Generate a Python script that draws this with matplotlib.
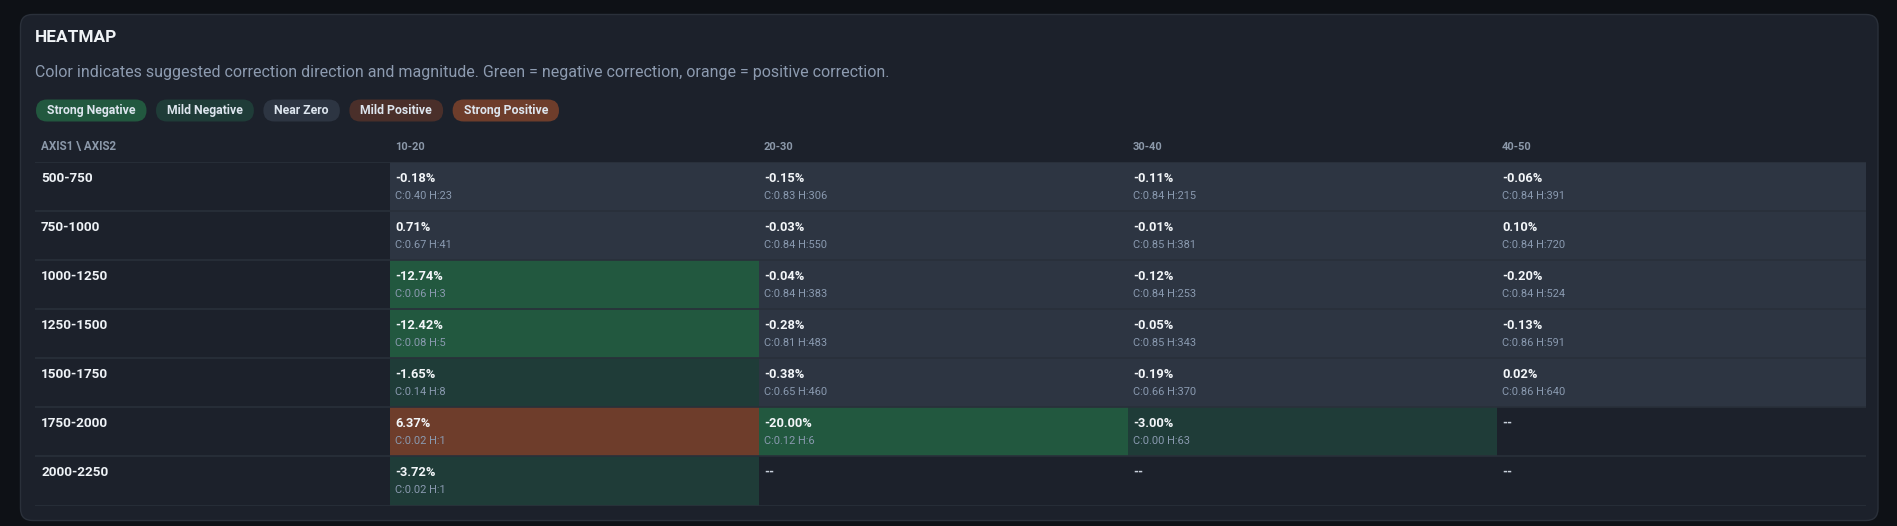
import matplotlib
matplotlib.use('Agg')
import matplotlib.pyplot as plt
import numpy as np
from matplotlib.patches import FancyBboxPatch
from matplotlib.colors import ListedColormap

plt.rcParams['font.family'] = ['Roboto', 'DejaVu Sans']

# data
row_labels = ['500-750', '750-1000', '1000-1250', '1250-1500', '1500-1750', '1750-2000', '2000-2250']
col_labels = ['10-20', '20-30', '30-40', '40-50']
correction = [
    [-0.18, -0.15, -0.11, -0.06],
    [0.71, -0.03, -0.01, 0.10],
    [-12.74, -0.04, -0.12, -0.20],
    [-12.42, -0.28, -0.05, -0.13],
    [-1.65, -0.38, -0.19, 0.02],
    [6.37, -20.00, -3.00, None],
    [-3.72, None, None, None],
]
confidence = [
    [0.40, 0.83, 0.84, 0.84],
    [0.67, 0.84, 0.85, 0.84],
    [0.06, 0.84, 0.84, 0.84],
    [0.08, 0.81, 0.85, 0.86],
    [0.14, 0.65, 0.66, 0.86],
    [0.02, 0.12, 0.00, None],
    [0.02, None, None, None],
]
hits = [
    [23, 306, 215, 391],
    [41, 550, 381, 720],
    [3, 383, 253, 524],
    [5, 483, 343, 591],
    [8, 460, 370, 640],
    [1, 6, 63, None],
    [1, None, None, None],
]
legend_labels = ['Strong Negative', 'Mild Negative', 'Near Zero', 'Mild Positive', 'Strong Positive']
legend_colors = ['#22583f', '#1f3c38', '#2d3542', '#4a2f2a', '#6e3d2b']

subtitle = ('Color indicates suggested correction direction and magnitude. '
            'Green = negative correction, orange = positive correction.')


def category(v):
    if v is None:
        return np.nan
    if v <= -5:
        return 0
    if v <= -1:
        return 1
    if v < 1:
        return 2
    if v < 5:
        return 3
    return 4


W, H = 1897, 526
fig = plt.figure(figsize=(W / 100, H / 100), dpi=100)
fig.patch.set_facecolor('#0e1116')

# background axes in pixel units for the card, title and pills
bg = fig.add_axes([0, 0, 1, 1])
bg.set_xlim(0, W)
bg.set_ylim(H, 0)
bg.axis('off')

bg.add_patch(FancyBboxPatch((20.5, 14.5), 1857.5, 506,
                            boxstyle='round,pad=0,rounding_size=12',
                            fc='#1c212b', ec='#2a303a', lw=1))
bg.text(35, 37, 'HEATMAP', color='#f0f3f6', fontsize=12.4, fontweight='bold', va='center')
bg.text(35, 72.5, subtitle, color='#8d9bb0', fontsize=11.5, va='center')

# legend pills, laid out from measured text widths
fig.canvas.draw()
renderer = fig.canvas.get_renderer()
x = 36
pill_h, pill_pad, pill_gap = 22, 11, 9.5
for label, color in zip(legend_labels, legend_colors):
    t = bg.text(x + pill_pad, 110.5, label, color='#dde5ee', fontsize=8.8,
                fontweight='bold', va='center', zorder=3)
    w = t.get_window_extent(renderer).width
    bg.add_patch(FancyBboxPatch((x, 110.5 - pill_h / 2), w + 2 * pill_pad, pill_h,
                                boxstyle='round,pad=0,rounding_size=11',
                                fc=color, ec='none', zorder=2))
    x += w + 2 * pill_pad + pill_gap

# table axes: label column + 4 data columns
tbl_left, tbl_right, tbl_top, tbl_bottom = 35, 1866, 162.3, 505.5
col_w = (tbl_right - 390) / len(col_labels)
lab_w = (390 - tbl_left) / col_w
ax = fig.add_axes([tbl_left / W, (H - tbl_bottom) / H,
                   (tbl_right - tbl_left) / W, (tbl_bottom - tbl_top) / H])
ax.set_xlim(-lab_w, len(col_labels))
ax.set_ylim(len(row_labels), 0)
ax.axis('off')

cats = np.ma.masked_invalid(np.array([[category(v) for v in r] for r in correction], dtype=float))
ax.pcolormesh(np.arange(len(col_labels) + 1), np.arange(len(row_labels) + 1), cats,
              cmap=ListedColormap(legend_colors), vmin=-0.5, vmax=4.5)
ax.hlines(np.arange(len(row_labels) + 1), -lab_w, len(col_labels), color='#29303a', lw=1.2)

row_h = (tbl_bottom - tbl_top) / len(row_labels)
dx = 5 / col_w
y_val = 16 / row_h
y_sub = 33.7 / row_h
y_head = -15.6 / row_h
lab_x = -lab_w + 6 / col_w

ax.text(lab_x, y_head, 'AXIS1 \\ AXIS2', color='#8b98a9', fontsize=8.4,
        fontweight='bold', va='center', clip_on=False)
for j, c in enumerate(col_labels):
    ax.text(j + dx, y_head, c, color='#8b98a9', fontsize=8,
            fontweight='bold', va='center', clip_on=False)

for i, r in enumerate(row_labels):
    ax.text(lab_x, i + y_val, r, color='#eef2f6', fontsize=9.7, fontweight='bold', va='center')
    for j in range(len(col_labels)):
        v = correction[i][j]
        if v is None:
            ax.text(j + dx, i + y_val, '--', color='#c9d1dc', fontsize=9.3,
                    fontweight='bold', va='center')
            continue
        ax.text(j + dx, i + y_val, f'{v:.2f}%', color='#f3f6f9', fontsize=9.3,
                fontweight='bold', va='center')
        ax.text(j + dx, i + y_sub, f'C:{confidence[i][j]:.2f} H:{hits[i][j]}',
                color='#8a9ab0', fontsize=7.9, va='center')

fig.savefig('out.png', dpi=100, facecolor=fig.get_facecolor())
